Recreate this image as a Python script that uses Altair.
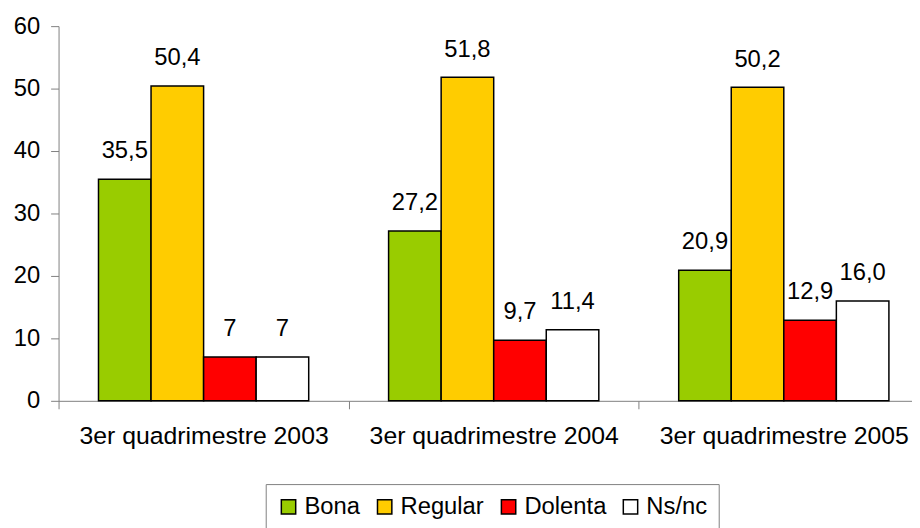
import altair as alt
import pandas as pd

categories = ["3er quadrimestre 2003", "3er quadrimestre 2004", "3er quadrimestre 2005"]
series = ["Bona", "Regular", "Dolenta", "Ns/nc"]
bona = [35.5, 27.2, 20.9]
regular = [50.4, 51.8, 50.2]
dolenta = [7, 9.7, 12.9]
nsnc = [7, 11.4, 16.0]
bona_lbl = ["35,5", "27,2", "20,9"]
regular_lbl = ["50,4", "51,8", "50,2"]
dolenta_lbl = ["7", "9,7", "12,9"]
nsnc_lbl = ["7", "11,4", "16,0"]
colors = ["#99CC00", "#FFCC00", "#FF0000", "#FFFFFF"]

rows = []
for s, vals, lbls in zip(series, [bona, regular, dolenta, nsnc],
                         [bona_lbl, regular_lbl, dolenta_lbl, nsnc_lbl]):
    for c, v, l in zip(categories, vals, lbls):
        rows.append({"cat": c, "serie": s, "value": v, "label": l})
df = pd.DataFrame(rows)

FONT = "Liberation Sans"
FS = 24

x = alt.X("cat:N", sort=categories, title=None,
          scale=alt.Scale(paddingInner=0, paddingOuter=0, range=[0, 878]),
          axis=alt.Axis(labelAngle=0, tickBand="extent", tickSize=8, labelLimit=400,
                        labelFontSize=25, labelFont=FONT, labelColor="#000000",
                        labelPadding=15, domainColor="#808080", tickColor="#808080",
                        domainWidth=1, tickWidth=1))
xo = alt.XOffset("serie:N", sort=series,
                 scale=alt.Scale(paddingInner=0, paddingOuter=0.76))
y = alt.Y("value:Q", title=None,
          scale=alt.Scale(domain=[0, 60], nice=False),
          axis=alt.Axis(values=[0, 10, 20, 30, 40, 50, 60], grid=False, tickSize=8,
                        labelFontSize=FS, labelFont=FONT, labelColor="#000000",
                        labelPadding=11, domainColor="#808080", tickColor="#808080"))
color = alt.Color("serie:N", sort=series,
                  scale=alt.Scale(domain=series, range=colors),
                  legend=alt.Legend(title=None, orient="none", legendX=209, legendY=462,
                                    direction="horizontal", columns=4,
                                    strokeColor="#808080", padding=11,
                                    symbolType="square", symbolSize=210,
                                    symbolStrokeColor="#000000", symbolStrokeWidth=1.5,
                                    labelFontSize=FS, labelFont=FONT, labelColor="#000000",
                                    labelOffset=4, columnPadding=12))

bars = alt.Chart(df).mark_bar(stroke="#000000", strokeWidth=1.5).encode(
    x=x, xOffset=xo, y=y, color=color)

text = alt.Chart(df).mark_text(fontSize=FS, font=FONT, color="#000000",
                               baseline="alphabetic", dy=-21).encode(
    x=alt.X("cat:N", sort=categories), xOffset=alt.XOffset("serie:N", sort=series),
    y="value:Q", text="label:N")

chart = alt.layer(bars, text).properties(
    width=861, height=378,
    autosize=alt.AutoSizeParams(type="none"),
    padding={"left": 51, "top": 16, "right": 0, "bottom": 126},
).configure_view(stroke=None)

chart.save("out.html", embed_options={"renderer": "svg", "actions": False})
